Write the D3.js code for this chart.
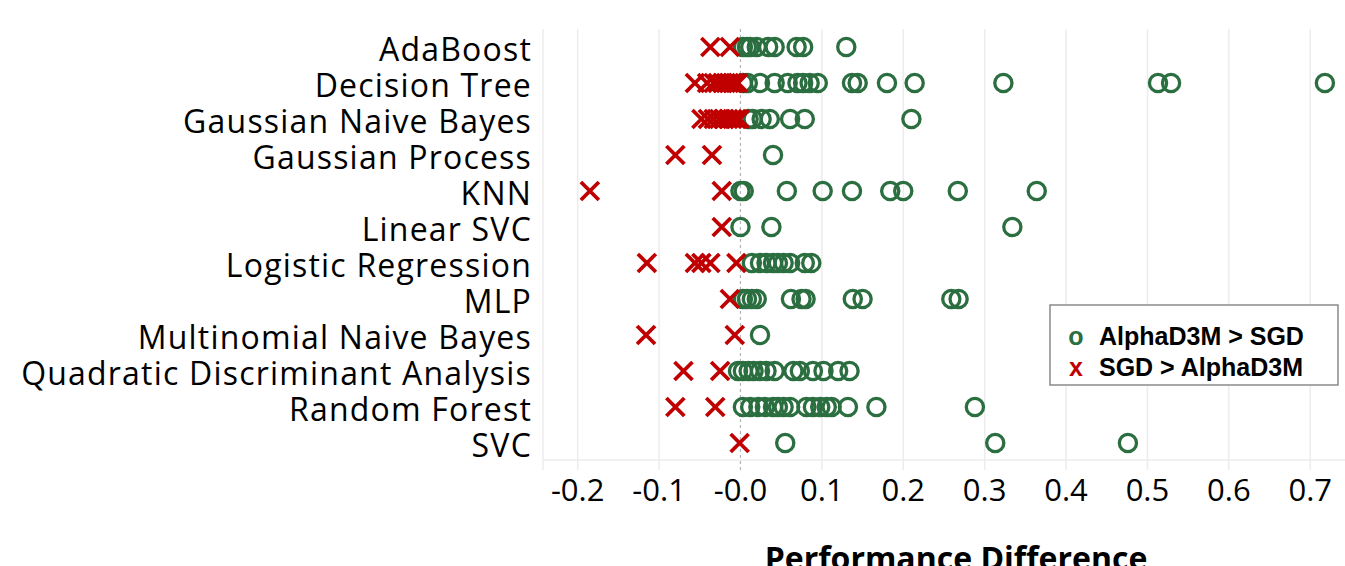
<!DOCTYPE html>
<html><head><meta charset="utf-8">
<script src="https://cdn.jsdelivr.net/npm/d3@7"></script>
<style>body{margin:0;background:#fff;}svg{display:block;}</style>
</head><body>
<svg id="chart" width="1345" height="566"></svg>
<script>
const categories = ["AdaBoost","Decision Tree","Gaussian Naive Bayes","Gaussian Process","KNN","Linear SVC","Logistic Regression","MLP","Multinomial Naive Bayes","Quadratic Discriminant Analysis","Random Forest","SVC"];
// AlphaD3M > SGD (positive differences)
const alphaWins = [
  [0.003,0.008,0.012,0.02,0.034,0.042,0.069,0.077,0.13],
  [0.003,0.009,0.024,0.042,0.058,0.07,0.077,0.085,0.095,0.137,0.144,0.18,0.214,0.323,0.513,0.529,0.718],
  [0.01,0.015,0.026,0.036,0.061,0.079,0.21],
  [0.04],
  [0.0,0.004,0.057,0.101,0.137,0.184,0.2,0.267,0.364],
  [0.0,0.038,0.334],
  [0.014,0.024,0.032,0.04,0.046,0.053,0.061,0.079,0.087],
  [0.003,0.008,0.014,0.02,0.062,0.075,0.08,0.138,0.15,0.259,0.268],
  [0.024],
  [-0.003,0.003,0.01,0.016,0.024,0.032,0.042,0.065,0.073,0.089,0.102,0.12,0.134],
  [0.003,0.012,0.022,0.03,0.04,0.046,0.053,0.061,0.081,0.089,0.098,0.106,0.112,0.132,0.167,0.288],
  [0.055,0.313,0.476]
];
// SGD > AlphaD3M (negative differences)
const sgdWins = [
  [-0.037,-0.013],
  [-0.056,-0.041,-0.033,-0.028,-0.022,-0.018,-0.014,-0.01,-0.006,-0.003],
  [-0.048,-0.04,-0.033,-0.026,-0.02,-0.015,-0.01,-0.005,-0.001],
  [-0.08,-0.035],
  [-0.185,-0.023],
  [-0.023],
  [-0.115,-0.056,-0.048,-0.037,-0.005],
  [-0.013],
  [-0.116,-0.007],
  [-0.07,-0.025],
  [-0.08,-0.031],
  [-0.001]
];
const xTicks = [-0.2,-0.1,0.0,0.1,0.2,0.3,0.4,0.5,0.6,0.7];
const tickLabels = ["-0.2","-0.1","-0.0","0.1","0.2","0.3","0.4","0.5","0.6","0.7"];
const legendLabels = ["AlphaD3M > SGD","SGD > AlphaD3M"];
const xTitle = "Performance Difference";

const GREEN = "#2b6e40", RED = "#c00000";
const svg = d3.select("#chart");
const x = d3.scaleLinear().domain([-0.2426, 0.7427]).range([543, 1345]);
const y = d3.scaleBand().domain(categories).range([29, 461]);
const yc = c => y(c) + y.bandwidth()/2;

// grid
const g = svg.append("g");
g.selectAll("line.grid").data(xTicks.filter(t => t !== 0)).enter().append("line")
  .attr("x1", d => x(d)).attr("x2", d => x(d)).attr("y1", 29).attr("y2", 470)
  .attr("stroke", "#ececec").attr("stroke-width", 1.5);
g.append("line").attr("x1", 543).attr("x2", 543).attr("y1", 29).attr("y2", 470)
  .attr("stroke", "#ececec").attr("stroke-width", 1.5);
g.append("line").attr("x1", 543).attr("x2", 1345).attr("y1", 460).attr("y2", 460)
  .attr("stroke", "#ececec").attr("stroke-width", 1.5);
g.append("line").attr("x1", x(0)).attr("x2", x(0)).attr("y1", 29).attr("y2", 470)
  .attr("stroke", "#b5b5b5").attr("stroke-width", 1.2).attr("stroke-dasharray", "3,3");

// category labels
svg.append("g").selectAll("text").data(categories).enter().append("text")
  .attr("x", 532).attr("y", d => yc(d)).attr("dy", "0.45em")
  .attr("text-anchor", "end").attr("font-family", "'Open Sans', sans-serif")
  .attr("font-size", 32).attr("letter-spacing", 1.2).attr("fill", "#000").text(d => d);

// tick labels
svg.append("g").selectAll("text").data(xTicks).enter().append("text")
  .attr("x", d => x(d)).attr("y", 490).attr("dy", "0.36em")
  .attr("text-anchor", "middle").attr("font-family", "'Open Sans', sans-serif")
  .attr("font-size", 31).attr("fill", "#000").text((d, i) => tickLabels[i]);

svg.append("text").attr("x", 956).attr("y", 570).attr("text-anchor", "middle")
  .attr("font-family", "'Open Sans', sans-serif").attr("font-weight", "bold")
  .attr("font-size", 32).text(xTitle);

// points
const circ = [];
alphaWins.forEach((arr, i) => arr.forEach(v => circ.push({c: categories[i], v})));
const cross = [];
sgdWins.forEach((arr, i) => arr.forEach(v => cross.push({c: categories[i], v})));

svg.append("g").selectAll("circle").data(circ).enter().append("circle")
  .attr("cx", d => x(d.v)).attr("cy", d => yc(d.c)).attr("r", 8.6)
  .attr("fill", "none").attr("stroke", GREEN).attr("stroke-width", 3.3);

const cs = 9;
svg.append("g").selectAll("path").data(cross).enter().append("path")
  .attr("d", d => { const cx = x(d.v), cy = yc(d.c);
    return `M${cx-cs},${cy-cs}L${cx+cs},${cy+cs}M${cx-cs},${cy+cs}L${cx+cs},${cy-cs}`; })
  .attr("stroke", RED).attr("stroke-width", 3.8).attr("fill", "none");

// legend
const lg = svg.append("g");
lg.append("rect").attr("x", 1050).attr("y", 305).attr("width", 288).attr("height", 80)
  .attr("fill", "#fff").attr("stroke", "#8a8a8a").attr("stroke-width", 1.5);
const lsym = ["o","x"], lcol = [GREEN, RED];
legendLabels.forEach((t, i) => {
  const yy = 336 + i * 31;
  lg.append("text").attr("x", 1076).attr("y", yy).attr("dy", "0.36em").attr("text-anchor", "middle")
    .attr("font-family", "'Liberation Sans', Arial, sans-serif").attr("font-weight", "bold")
    .attr("font-size", 25).attr("fill", lcol[i]).text(lsym[i]);
  lg.append("text").attr("x", 1099).attr("y", yy).attr("dy", "0.36em")
    .attr("font-family", "'Liberation Sans', Arial, sans-serif").attr("font-weight", "bold")
    .attr("font-size", 25).attr("fill", "#000").text(t);
});
</script>
</body></html>
